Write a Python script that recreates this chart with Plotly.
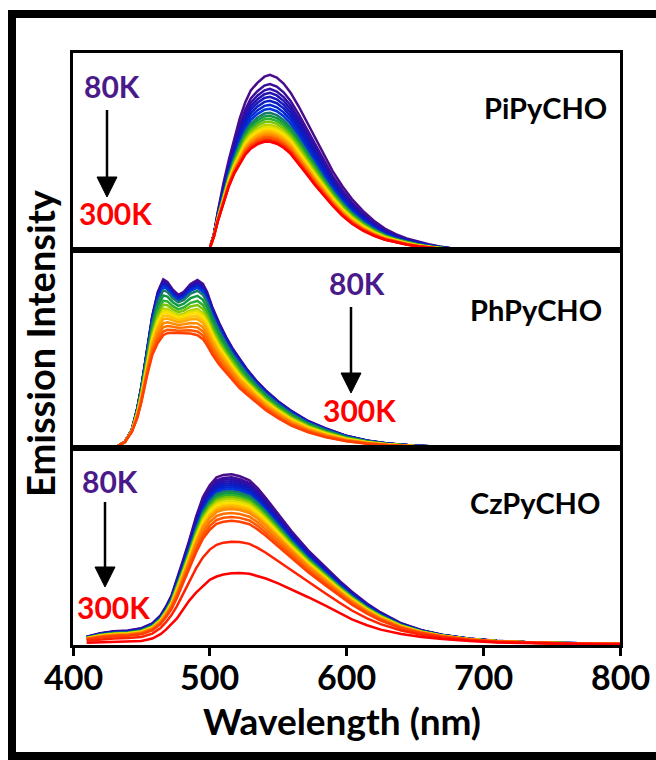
import plotly.graph_objects as go
from plotly.subplots import make_subplots

# ---------------- data ----------------
temps = [80, 90, 100, 110, 120, 130, 140, 150, 160, 170, 180, 190,
         200, 210, 220, 230, 240, 250, 260, 270, 280, 290, 300]

colors = ["#4B0C8C", "#3D0E9A", "#2F10A6", "#2212B0", "#1616BA", "#0C1CC4",
          "#0428D0", "#0036DC", "#1A7A6A", "#109A40", "#30B030", "#7CC400",
          "#B4D200", "#E2E000", "#FFE000", "#FFC400", "#FFA800", "#FF8C00",
          "#FF7200", "#FF5800", "#FF4000", "#FF2200", "#FF0000"]

# PiPyCHO
wl_pi = [500, 503, 506, 510, 514, 518, 522, 526, 530, 535, 540, 544, 549, 554,
         559, 565, 571, 577, 583, 590, 597, 604, 612, 620, 628, 636, 644, 652,
         660, 668, 676, 684]
pi_80k = [0.01, 0.08, 0.20, 0.34, 0.46, 0.57, 0.67, 0.75, 0.81, 0.85, 0.88,
          0.889, 0.875, 0.845, 0.80, 0.73, 0.65, 0.57, 0.49, 0.40, 0.325, 0.26,
          0.20, 0.15, 0.11, 0.082, 0.06, 0.044, 0.031, 0.02, 0.01, 0.003]
pi_300k = [0.01, 0.07, 0.15, 0.24, 0.325, 0.39, 0.44, 0.485, 0.515, 0.538,
           0.55, 0.55, 0.54, 0.52, 0.49, 0.44, 0.385, 0.33, 0.28, 0.225, 0.175,
           0.135, 0.10, 0.074, 0.054, 0.04, 0.029, 0.02, 0.013, 0.008, 0.004, 0.001]
pi_peaks = [0.889, 0.843, 0.818, 0.798, 0.778, 0.758, 0.737, 0.717, 0.697,
            0.682, 0.667, 0.652, 0.636, 0.626, 0.616, 0.606, 0.596, 0.586,
            0.576, 0.571, 0.561, 0.556, 0.550]

# PhPyCHO
wl_ph = [400, 425, 432, 438, 443, 447, 450, 454, 458, 462, 466, 469, 473, 477,
         481, 486, 491, 495, 498, 502, 507, 512, 517, 522, 527, 534, 541, 550,
         560, 572, 585, 600, 615, 630, 650, 675, 700, 750]
ph_80k = [0.0, 0.0, 0.005, 0.03, 0.09, 0.20, 0.31, 0.50, 0.67, 0.79, 0.853,
          0.84, 0.80, 0.775, 0.79, 0.83, 0.85, 0.83, 0.79, 0.71, 0.63, 0.56,
          0.50, 0.45, 0.40, 0.34, 0.29, 0.235, 0.185, 0.135, 0.097, 0.06,
          0.036, 0.021, 0.01, 0.004, 0.002, 0.0]
ph_300k = [0.0, 0.0, 0.005, 0.03, 0.08, 0.15, 0.23, 0.36, 0.47, 0.53, 0.57,
           0.58, 0.582, 0.58, 0.58, 0.578, 0.57, 0.55, 0.52, 0.47, 0.42, 0.38,
           0.34, 0.30, 0.27, 0.23, 0.19, 0.15, 0.11, 0.078, 0.052, 0.032, 0.02,
           0.012, 0.006, 0.003, 0.002, 0.001]
ph_peaks = [0.853, 0.845, 0.840, 0.835, 0.830, 0.825, 0.820, 0.815, 0.800,
            0.775, 0.750, 0.730, 0.710, 0.700, 0.690, 0.675, 0.660, 0.640,
            0.620, 0.600, 0.582]

# CzPyCHO
wl_cz = [410, 420, 430, 440, 450, 458, 464, 468, 472, 476, 480, 485, 490, 495,
         500, 505, 510, 516, 522, 529, 535, 541, 550, 560, 572, 585, 595, 604,
         615, 625, 640, 655, 670, 690, 710, 740, 770, 800]
cz_80k = [0.042, 0.06, 0.07, 0.073, 0.085, 0.11, 0.15, 0.195, 0.25, 0.33, 0.42,
          0.53, 0.65, 0.75, 0.81, 0.85, 0.862, 0.865, 0.855, 0.835, 0.795,
          0.745, 0.665, 0.575, 0.48, 0.39, 0.325, 0.27, 0.21, 0.165, 0.11,
          0.075, 0.052, 0.032, 0.021, 0.012, 0.008, 0.006]
cz_300k = [0.012, 0.014, 0.015, 0.017, 0.02, 0.033, 0.055, 0.078, 0.105, 0.135,
           0.175, 0.225, 0.265, 0.30, 0.33, 0.347, 0.357, 0.363, 0.365, 0.361,
           0.35, 0.337, 0.312, 0.282, 0.242, 0.198, 0.162, 0.13, 0.1, 0.078,
           0.056, 0.041, 0.031, 0.02, 0.013, 0.008, 0.005, 0.004]
cz_peaks = [0.865, 0.850, 0.840, 0.830, 0.820, 0.810, 0.800, 0.790, 0.780,
            0.770, 0.760, 0.750, 0.740, 0.730, 0.720, 0.710, 0.700, 0.690,
            0.670, 0.650, 0.630, 0.525, 0.365]

panel_names = ["PiPyCHO", "PhPyCHO", "CzPyCHO"]
x_ticks = [400, 500, 600, 700, 800]

# ---------------- figure ----------------
W, H = 656, 760
L, R, T, B = 73, 620, 53, 645


def px(x):
    return (x - L) / (R - L)


def py(y):
    return (B - y) / (B - T)


fig = make_subplots(rows=3, cols=1, shared_xaxes=True, vertical_spacing=0)

panels = [(wl_pi, pi_80k, pi_300k, pi_peaks),
          (wl_ph, ph_80k, ph_300k, ph_peaks),
          (wl_cz, cz_80k, cz_300k, cz_peaks)]

for row, (wl, c_lo, c_hi, peaks) in enumerate(panels, start=1):
    p_top, p_bot = peaks[0], peaks[-1]
    for i, pk in enumerate(peaks):
        w = (pk - p_bot) / (p_top - p_bot)
        y = [b + w * (a - b) for a, b in zip(c_lo, c_hi)]
        fig.add_trace(go.Scatter(x=wl, y=y, mode="lines",
                                 line=dict(color=colors[i], width=2.5),
                                 name=f"{temps[i]}K", showlegend=False,
                                 hoverinfo="skip"),
                      row=row, col=1)

axis_line = dict(showline=True, linecolor="black", linewidth=2.5, mirror=True,
                 showgrid=False, zeroline=False)
for r in (1, 2, 3):
    fig.update_xaxes(range=[400, 800], row=r, col=1, ticks="",
                     showticklabels=False, **axis_line)
    fig.update_yaxes(range=[0, 1], row=r, col=1, ticks="",
                     showticklabels=False, **axis_line)
fig.update_xaxes(row=3, col=1, ticks="outside", ticklen=8, tickwidth=2.5,
                 tickcolor="black", showticklabels=False, tickvals=x_ticks)

bold = dict(family="Lato", color="black", weight="bold")
purple = "#4A1A8A"
red = "#FF0000"
ann = []
# tick labels (placed at the axis' own tick values)
for v in x_ticks:
    ann.append(dict(text=str(v), x=v, xref="x3", y=py(676), yref="paper",
                    showarrow=False, xanchor="center", yanchor="middle",
                    font=dict(size=34, **bold)))
# panel names
for name, (cx, cy) in zip(panel_names, [(545, 107), (536, 309), (535, 502)]):
    ann.append(dict(text=name, x=px(cx), y=py(cy), xref="paper", yref="paper",
                    showarrow=False, xanchor="center", yanchor="middle",
                    font=dict(size=29, **bold)))
# temperature labels
for txt, col, (cx, cy) in [("80K", purple, (112, 86)), ("300K", red, (115, 213)),
                           ("80K", purple, (357, 283)), ("300K", red, (359, 410)),
                           ("80K", purple, (110, 481)), ("300K", red, (113, 607))]:
    ann.append(dict(text=txt, x=px(cx), y=py(cy), xref="paper", yref="paper",
                    showarrow=False, xanchor="center", yanchor="middle",
                    font=dict(family="Lato", size=30, color=col, weight="bold")))
# axis titles
ann.append(dict(text="Wavelength (nm)", x=px(342), y=py(720), xref="paper",
                yref="paper", showarrow=False, xanchor="center", yanchor="middle",
                font=dict(size=37, **bold)))
ann.append(dict(text="Emission Intensity", x=px(40), y=py(343), xref="paper",
                yref="paper", showarrow=False, xanchor="center", yanchor="middle",
                textangle=-90, font=dict(size=38, **bold)))

shapes = []
# arrows (shaft + head)
for ax_, y0, y1 in [(107, 110, 180), (351, 307, 376), (105, 502, 570)]:
    shapes.append(dict(type="line", xref="paper", yref="paper",
                       x0=px(ax_), x1=px(ax_), y0=py(y0), y1=py(y1),
                       line=dict(color="black", width=2.5)))
    tip = y1 + 17
    shapes.append(dict(type="path", xref="paper", yref="paper",
                       path=f"M {px(ax_-10)},{py(y1-3)} L {px(ax_+10)},{py(y1-3)} "
                            f"L {px(ax_)},{py(tip)} Z",
                       fillcolor="black", line=dict(color="black", width=1)))
# outer frame
shapes.append(dict(type="rect", xref="paper", yref="paper",
                   x0=px(12), x1=px(720), y0=py(756), y1=py(14),
                   line=dict(color="black", width=8), fillcolor="rgba(0,0,0,0)"))

fig.update_layout(width=W, height=H, margin=dict(l=L, r=W - R, t=T, b=H - B),
                  paper_bgcolor="white", plot_bgcolor="white",
                  annotations=ann, shapes=shapes, showlegend=False)

fig.write_html("out.html")
